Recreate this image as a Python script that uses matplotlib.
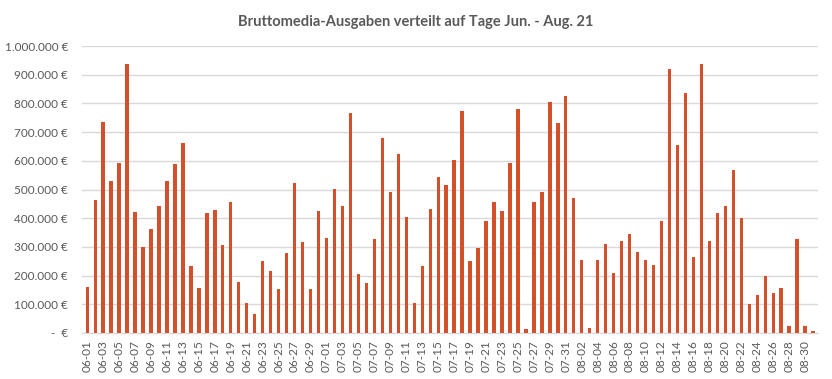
import matplotlib.pyplot as plt
import pandas as pd
from matplotlib.ticker import FuncFormatter

plt.rcParams["font.family"] = ["Lato", "DejaVu Sans"]

# daily gross media spend, Jun 1 - Aug 31 2021
dates = pd.date_range("2021-06-01", "2021-08-31", freq="D")
labels = [d.strftime("%m-%d") for d in dates]
spend = [
    160000, 465000, 736000, 528000, 594000, 938000, 420000, 299000, 361000, 444000,
    531000, 590000, 663000, 233000, 156000, 417000, 427000, 306000, 458000, 177000,
    104000, 66000, 250000, 215000, 153000, 278000, 524000, 316000, 153000, 424000,
    330000, 503000, 444000, 767000, 205000, 174000, 326000, 681000, 493000, 625000,
    403000, 104000, 233000, 431000, 542000, 514000, 604000, 774000, 250000, 295000,
    389000, 458000, 424000, 594000, 781000, 14000, 458000, 490000, 806000, 733000,
    826000, 472000, 253000, 17000, 253000, 309000, 208000, 319000, 344000, 281000,
    253000, 236000, 389000, 920000, 656000, 837000, 264000, 938000, 319000, 417000,
    441000, 569000, 399000, 101000, 132000, 198000, 139000, 156000, 24000, 326000,
    24000, 7000,
]

bar_color = "#D2502B"
text_color = "#595959"
grid_color = "#D9D9D9"

fig = plt.figure(figsize=(8.32, 3.79), dpi=100)
ax = fig.add_axes([0.0986, 0.1214, 0.8844, 0.7572])

x = list(range(len(spend)))
ax.bar(x, spend, width=0.42, color=bar_color, zorder=3)

ax.set_ylim(0, 1000000)
ax.set_yticks(range(0, 1000001, 100000))
ax.set_xlim(-0.65, len(spend) - 0.4)


def euro(v, pos):
    if v == 0:
        return "-  €"
    return f"{v:,.0f}".replace(",", ".") + " €"


ax.yaxis.set_major_formatter(FuncFormatter(euro))
ax.set_xticks(x[::2])
ax.set_xticklabels(labels[::2], rotation=90)

ax.grid(axis="y", color=grid_color, linewidth=1, zorder=0)
for side in ["top", "right", "left"]:
    ax.spines[side].set_visible(False)
ax.spines["bottom"].set_color(grid_color)
ax.tick_params(axis="both", length=0, colors=text_color, labelsize=8.5)
ax.tick_params(axis="y", pad=10)
ax.tick_params(axis="x", pad=5)

fig.text(0.5, 0.942, "Bruttomedia-Ausgaben verteilt auf Tage Jun. - Aug. 21",
         ha="center", va="center", fontsize=10.5, fontweight="bold", color=text_color)

fig.savefig("out.png", dpi=100)
